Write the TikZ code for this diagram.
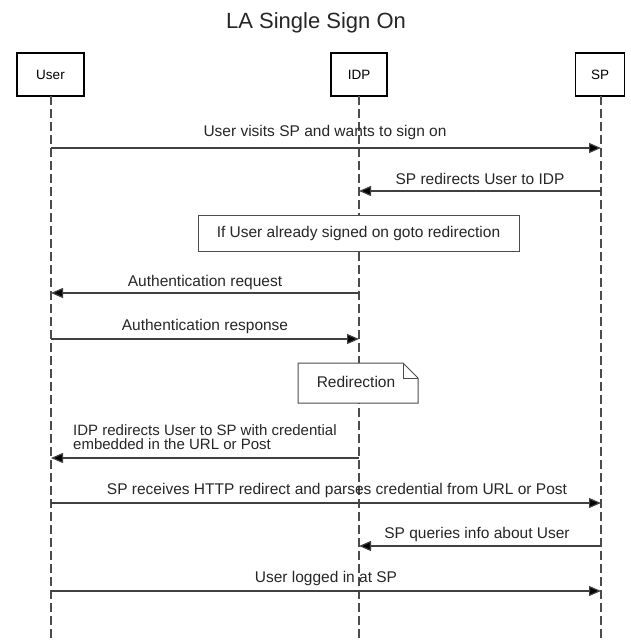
\documentclass[tikz,border=0pt]{standalone}
\usepackage{fontspec}
\setmainfont{Liberation Sans}
\usetikzlibrary{arrows.meta}
\begin{document}
\begin{tikzpicture}[x=1pt,y=-1pt,
  actor/.style={draw=black,line width=1.8pt,fill=white,inner sep=0pt,font=\fontsize{13.5}{15}\selectfont},
  lifeline/.style={draw=black!70,line width=1.1pt,dash pattern=on 9pt off 4pt},
  msg/.style={draw=black!75,line width=1.2pt,-{Triangle[length=12pt,width=10pt,fill=black]}},
  lbl/.style={font=\fontsize{15.5}{15}\selectfont,inner sep=0pt,text=black!85},
  notebox/.style={draw=black!70,line width=1pt,fill=white}]
\useasboundingbox (0,0) rectangle (630,642);
\node[font=\fontsize{22}{24}\selectfont,text=black!85] (title) at (316,23) {LA Single Sign On};
% actors
\node[actor,minimum width=67pt,minimum height=43pt] (user) at (50.5,74.5) {User};
\node[actor,minimum width=56pt,minimum height=43pt] (idp) at (359,74.5) {IDP};
\node[actor,minimum width=49pt,minimum height=43pt] (sp) at (600,74.5) {SP};
\coordinate (userend) at (51,642);
\coordinate (idpend) at (359,642);
\coordinate (spend) at (601,642);
\draw[lifeline] (51,96) -- (userend);
\draw[lifeline] (359,96) -- (idpend);
\draw[lifeline] (601,96) -- (spend);
% coordinates on lifelines
\foreach \n/\y in {1/148,2/191,3/293,4/339,5/458,6/503,7/546,8/591}{
  \coordinate (u\n) at (51,\y);
  \coordinate (i\n) at (359,\y);
  \coordinate (s\n) at (601,\y);
}
% notes
\node[notebox,minimum width=321pt,minimum height=36pt,lbl] (note1) at (358.5,233) {If User already signed on goto redirection};
\draw[notebox] (298,363) -- (403,363) -- (418,378) -- (418,403) -- (298,403) -- cycle;
\draw[draw=black!70,line width=1pt] (403,363) -- (403,378) -- (418,378);
\node[lbl] (note2) at (356,382) {Redirection};
% messages
\draw[msg] (u1) -- (s1);
\node[lbl] (l1) at (325,132) {User visits SP and wants to sign on};
\draw[msg] (s2) -- (i2);
\node[lbl] (l2) at (480,179) {SP redirects User to IDP};
\draw[msg] (i3) -- (u3);
\node[lbl] (l3) at (205,282) {Authentication request};
\draw[msg] (u4) -- (i4);
\node[lbl] (l4) at (205,326) {Authentication response};
\draw[msg] (i5) -- (u5);
\node[lbl,align=left,anchor=south west,font=\fontsize{15}{14.5}\selectfont] (l5) at (73,450) {IDP redirects User to SP with credential\\embedded in the URL or Post};
\draw[msg] (u6) -- (s6);
\node[lbl] (l6) at (337,490) {SP receives HTTP redirect and parses credential from URL or Post};
\draw[msg] (s7) -- (i7);
\node[lbl] (l7) at (477,534) {SP queries info about User};
\draw[msg] (u8) -- (s8);
\node[lbl] (l8) at (326,578) {User logged in at SP};
\end{tikzpicture}
\end{document}
